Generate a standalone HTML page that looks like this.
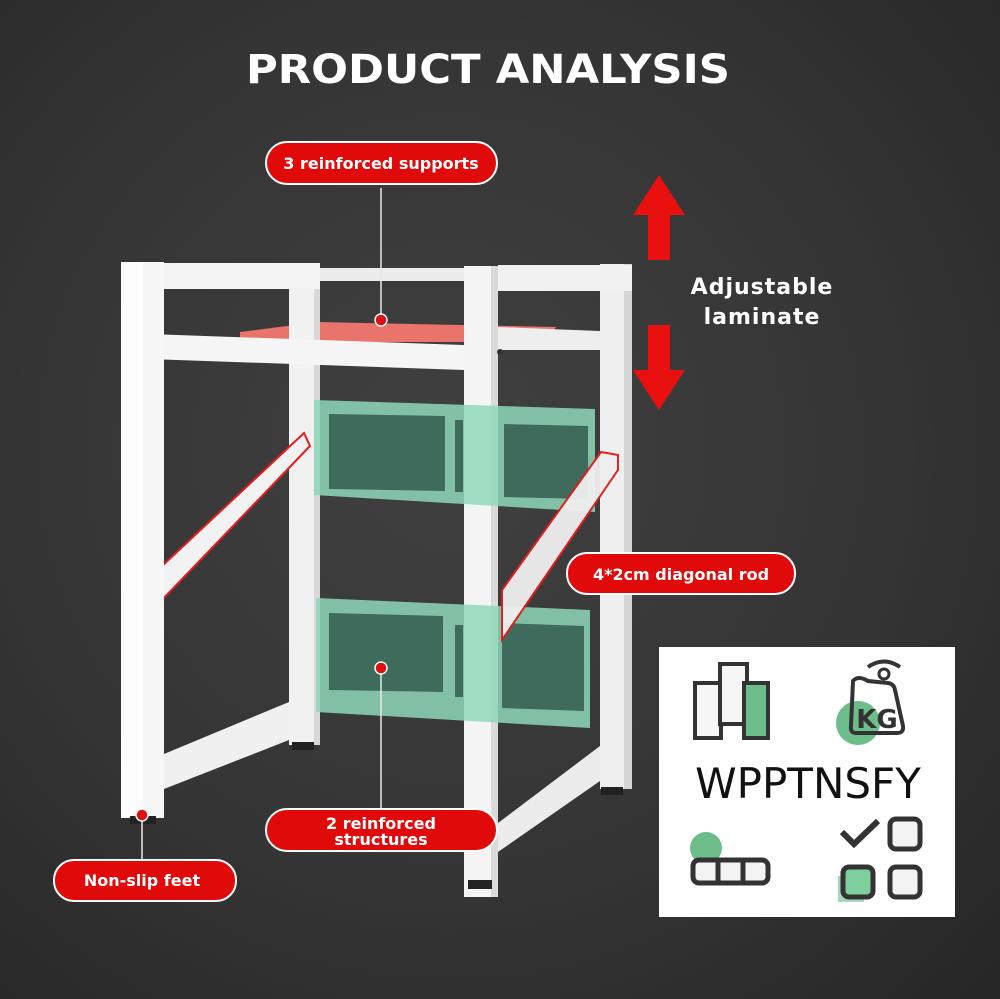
<!DOCTYPE html>
<html><head><meta charset="utf-8"><style>
html,body{margin:0;padding:0}
body{width:1000px;height:999px;overflow:hidden;background:radial-gradient(ellipse at 45% 45%,#404040 0%,#353535 55%,#262626 100%);font-family:"Liberation Sans","DejaVu Sans",sans-serif}
svg{position:absolute;left:0;top:0}
</style></head><body>
<svg width="1000" height="999" viewBox="0 0 1000 999">
<text x="246" y="83" fill="#fff" font-family="DejaVu Sans, sans-serif" font-weight="bold" font-size="40" textLength="484" lengthAdjust="spacingAndGlyphs">PRODUCT ANALYSIS</text>
<!-- back top bar -->
<rect x="314" y="268" width="152" height="13" fill="#ececec"/>
<!-- red shelf -->
<polygon points="240,332 318,322 556,327 548,338 470,342 240,342" fill="#e9746c"/>
<!-- left back leg -->
<rect x="289" y="285" width="31" height="460" fill="#f1f1f1"/>
<rect x="314" y="285" width="6" height="460" fill="#d8d8d8"/>
<rect x="292" y="742" width="22" height="8" fill="#222"/>
<!-- right back leg -->
<rect x="600" y="264" width="32" height="525" fill="#efefef"/>
<rect x="624" y="264" width="8" height="525" fill="#d6d6d6"/>
<rect x="601" y="787" width="22" height="8" fill="#222"/>
<!-- left side bars -->
<rect x="121" y="263" width="199" height="26" fill="#f3f3f3"/>
<polygon points="164,754 289,702 289,740 164,789" fill="#f0f0f0"/>
<!-- left diagonal -->
<polygon points="162,566 304,433 310,446 162,600" fill="#f2f2f2" stroke="#e21c1c" stroke-width="2"/>
<!-- right side bars -->
<rect x="498" y="265" width="134" height="26" fill="#f1f1f1"/>
<polygon points="498,327 600,331 600,350 498,350" fill="#eee"/>
<polygon points="498,823 600,746 600,781 498,852" fill="#ececec"/>
<!-- front top crossbar -->
<polygon points="121,333 464,345 464,370 121,358" fill="#f5f5f5"/>
<!-- left front leg -->
<rect x="121" y="262" width="43" height="556" fill="#f7f7f7"/>
<rect x="121" y="262" width="22" height="556" fill="#fdfdfd"/>
<rect x="130" y="816" width="26" height="8" fill="#222"/>
<!-- right front leg -->
<rect x="464" y="266" width="34" height="631" fill="#f4f4f4"/>
<rect x="491" y="266" width="7" height="631" fill="#dadada"/>
<rect x="468" y="880" width="24" height="9" fill="#222"/>
<circle cx="500" cy="352" r="3" fill="#333"/>
<!-- green upper panel -->
<polygon points="314,400 595,409 595,512 314,495" fill="#8fd8b9" opacity="0.85"/>
<polygon points="329,414 445,416 445,491 329,489" fill="#3f6b5c"/>
<polygon points="504,424 588,426 588,499 504,497" fill="#3f6b5c"/>
<rect x="455" y="420" width="8" height="72" fill="#3f6b5c"/>
<!-- green lower panel -->
<polygon points="316,598 590,610 590,728 316,712" fill="#8fd8b9" opacity="0.85"/>
<polygon points="329,613 443,616 443,692 329,690" fill="#3f6b5c"/>
<polygon points="502,623 584,626 584,711 502,708" fill="#3f6b5c"/>
<rect x="455" y="625" width="8" height="72" fill="#3f6b5c"/>
<!-- right diagonal -->
<polygon points="502,590 601,452 618,455 618,470 502,640" fill="#f0f0f0" stroke="#e21c1c" stroke-width="2" opacity="0.95"/>
<!-- pointer lines -->
<line x1="381" y1="188" x2="381" y2="320" stroke="#e8e8e8" stroke-width="1.5"/>
<circle cx="381" cy="320" r="6" fill="#e01010" stroke="#fff" stroke-width="1.5"/>
<line x1="381" y1="668" x2="381" y2="808" stroke="#e8e8e8" stroke-width="1.5"/>
<circle cx="381" cy="668" r="6" fill="#e01010" stroke="#fff" stroke-width="1.5"/>
<line x1="142" y1="815" x2="142" y2="860" stroke="#e8e8e8" stroke-width="1.5"/>
<circle cx="142" cy="815" r="6" fill="#e01010" stroke="#fff" stroke-width="1.5"/>
<!-- labels -->
<g font-family="DejaVu Sans, sans-serif" font-weight="bold" fill="#fff" text-anchor="middle">
<rect x="266" y="142" width="231" height="42" rx="21" fill="#e10a0a" stroke="#fff" stroke-width="2"/>
<text x="381" y="169" font-size="16" fill="#fff">3 reinforced supports</text>
<rect x="567" y="553" width="228" height="41" rx="20" fill="#e10a0a" stroke="#fff" stroke-width="2"/>
<text x="681" y="580" font-size="16" fill="#fff">4*2cm diagonal rod</text>
<rect x="266" y="809" width="231" height="42" rx="21" fill="#e10a0a" stroke="#fff" stroke-width="2"/>
<text x="381" y="829" font-size="16" fill="#fff">2 reinforced</text>
<text x="381" y="845" font-size="16" fill="#fff">structures</text>
<rect x="54" y="860" width="182" height="41" rx="20" fill="#e10a0a" stroke="#fff" stroke-width="2"/>
<text x="142" y="886" font-size="16" fill="#fff">Non-slip feet</text>
</g>
<!-- arrows -->
<polygon points="659,175 685,215 670,215 670,260 648,260 648,215 633,215" fill="#e8110f"/>
<polygon points="659,410 685,370 670,370 670,325 648,325 648,370 633,370" fill="#e8110f"/>
<text x="762" y="294" text-anchor="middle" fill="#fff" font-family="DejaVu Sans, sans-serif" font-weight="bold" font-size="22" letter-spacing="1">Adjustable</text>
<text x="762" y="324" text-anchor="middle" fill="#fff" font-family="DejaVu Sans, sans-serif" font-weight="bold" font-size="22" letter-spacing="1">laminate</text>
<!-- white box -->
<rect x="659" y="647" width="296" height="270" fill="#fff"/>
<g stroke="#333" stroke-width="4" fill="#f6f6f6">
<rect x="695" y="683" width="26" height="55"/>
<rect x="720" y="664" width="27" height="60"/>
<rect x="744" y="683" width="24" height="55" fill="#6dbd8a"/>
</g>
<circle cx="858" cy="723" r="22" fill="#6dbd8a"/>
<path d="M853,681 Q858,675 868,681 L888,683 Q894,684 895,690 L903,726 Q904,733 897,733 L856,733 Q850,733 851,726 Z" fill="none" stroke="#333" stroke-width="4"/>
<path d="M868,667 Q884,656 900,667" fill="none" stroke="#333" stroke-width="4"/>
<circle cx="884" cy="674" r="5" fill="none" stroke="#333" stroke-width="3"/>
<text x="877" y="728" text-anchor="middle" fill="#333" font-family="DejaVu Sans, sans-serif" font-weight="bold" font-size="26">KG</text>
<text x="808" y="798" text-anchor="middle" fill="#111" font-family="DejaVu Sans, sans-serif" font-size="42">WPPTNSFY</text>
<circle cx="706" cy="848" r="16" fill="#6dbd8a"/>
<rect x="693" y="860" width="75" height="23" rx="6" fill="#f3f3f3" stroke="#333" stroke-width="5"/>
<line x1="718" y1="860" x2="718" y2="883" stroke="#333" stroke-width="5"/>
<line x1="743" y1="860" x2="743" y2="883" stroke="#333" stroke-width="5"/>
<polyline points="842,832 854,844 878,821" fill="none" stroke="#333" stroke-width="6"/>
<rect x="838" y="876" width="26" height="26" fill="#6dbd8a" opacity="0.6"/>
<rect x="890" y="819" width="30" height="30" rx="6" fill="#f3f3f3" stroke="#333" stroke-width="5"/>
<rect x="843" y="867" width="30" height="30" rx="6" fill="#7fcf9e" stroke="#333" stroke-width="5"/>
<rect x="890" y="867" width="30" height="30" rx="6" fill="#f3f3f3" stroke="#333" stroke-width="5"/>
</svg>
</body></html>
